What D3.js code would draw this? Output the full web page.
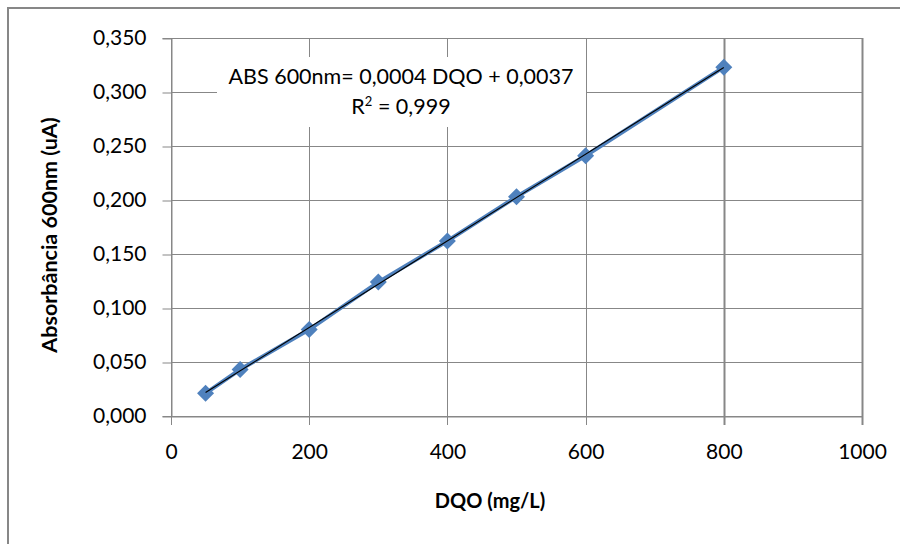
<!DOCTYPE html>
<html>
<head>
<meta charset="utf-8">
<script src="https://cdn.jsdelivr.net/npm/d3@7"></script>
<style>
  body { margin: 0; background: #fff; }
  svg text { font-family: Lato, "Open Sans", sans-serif; fill: #000; }
</style>
</head>
<body>
<svg id="chart" width="900" height="544"></svg>
<script>
// data
const dqo = [50, 100, 200, 300, 400, 500, 600, 800];
const abs = [0.021, 0.043, 0.080, 0.124, 0.162, 0.203, 0.241, 0.323];
const xTicks = [0, 200, 400, 600, 800, 1000];
const yTicks = [0, 0.05, 0.1, 0.15, 0.2, 0.25, 0.3, 0.35];
const eqText = "ABS 600nm= 0,0004 DQO + 0,0037";

// plot area
const margin = { top: 38, right: 38, bottom: 128, left: 171 };
const width = 900 - margin.left - margin.right;
const height = 544 - margin.top - margin.bottom;
const grid = "#878787";

const svg = d3.select("#chart");

// outer chart border (right/bottom fall outside the picture)
svg.append("rect")
  .attr("x", 8).attr("y", 8)
  .attr("width", 920).attr("height", 560)
  .attr("fill", "none")
  .attr("stroke", grid)
  .attr("stroke-width", 2);

const g = svg.append("g").attr("transform", `translate(${margin.left},${margin.top})`);

const x = d3.scaleLinear().domain([0, 1000]).range([0, width]);
const y = d3.scaleLinear().domain([0, 0.35]).range([height, 0]);
const fmt = d => d3.format(".3f")(d).replace(".", ",");

// gridlines
g.selectAll(".hgrid").data(yTicks).join("line")
  .attr("x1", 0).attr("x2", width)
  .attr("y1", d => Math.round(y(d)) + 0.5).attr("y2", d => Math.round(y(d)) + 0.5)
  .attr("stroke", grid);
g.selectAll(".vgrid").data(xTicks).join("line")
  .attr("x1", d => Math.round(x(d)) + 0.5).attr("x2", d => Math.round(x(d)) + 0.5)
  .attr("y1", 0).attr("y2", height + 9)
  .attr("stroke", grid)
  .attr("stroke-width", d => (d === 1000 || d === 800) ? 2 : 1);

// axes
const yAxis = g.append("g")
  .attr("transform", "translate(0.5,0)")
  .call(d3.axisLeft(y).tickValues(yTicks).tickFormat(fmt).tickSize(9).tickPadding(16));
yAxis.select(".domain").attr("stroke", grid);
yAxis.selectAll(".tick line").attr("stroke", grid).attr("transform", "translate(0,0.5)");
yAxis.selectAll("text").style("font-size", "21px");

const xAxis = g.append("g")
  .attr("transform", `translate(0,${height + 0.5})`)
  .call(d3.axisBottom(x).tickValues(xTicks).tickFormat(d3.format("d")).tickSize(0).tickPadding(28));
xAxis.select(".domain").attr("stroke", grid);
xAxis.selectAll("text").style("font-size", "21px");

// label box for the trendline equation
g.append("rect")
  .attr("x", 217 - margin.left).attr("y", 57 - margin.top)
  .attr("width", 369).attr("height", 70)
  .attr("fill", "#fff");

// series line and markers
const pts = dqo.map((d, i) => ({ x: d, y: abs[i] }));
g.append("path")
  .datum(pts)
  .attr("fill", "none")
  .attr("stroke", "#4f81bd")
  .attr("stroke-width", 4)
  .attr("d", d3.line().x(d => x(d.x)).y(d => y(d.y)));

g.selectAll(".pt").data(pts).join("path")
  .attr("transform", d => `translate(${x(d.x)},${y(d.y)})`)
  .attr("d", "M0,-8.5L8.5,0L0,8.5L-8.5,0Z")
  .attr("fill", "#4f81bd");

// linear trendline (least squares)
const mx = d3.mean(dqo), my = d3.mean(abs);
const slope = d3.sum(dqo, (d, i) => (d - mx) * (abs[i] - my)) / d3.sum(dqo, d => (d - mx) ** 2);
const icpt = my - slope * mx;
const ext = d3.extent(dqo);
g.append("line")
  .attr("x1", x(ext[0])).attr("y1", y(icpt + slope * ext[0]))
  .attr("x2", x(ext[1])).attr("y2", y(icpt + slope * ext[1]))
  .attr("stroke", "#000")
  .attr("stroke-width", 1.2);

// equation text
svg.append("text")
  .attr("x", 401).attr("y", 84)
  .attr("text-anchor", "middle")
  .style("font-size", "21.5px")
  .text(eqText);
const r2 = svg.append("text")
  .attr("x", 401).attr("y", 114)
  .attr("text-anchor", "middle")
  .style("font-size", "21.5px");
r2.append("tspan").text("R");
r2.append("tspan").attr("dy", -8).style("font-size", "13px").text("2");
r2.append("tspan").attr("dy", 8).text(" = 0,999");

// axis titles
svg.append("text")
  .attr("transform", "translate(57,235) rotate(-90)")
  .attr("text-anchor", "middle")
  .style("font-size", "21.5px")
  .style("font-weight", "bold")
  .text("Absorbância 600nm (uA)");
svg.append("text")
  .attr("x", 490).attr("y", 508)
  .attr("text-anchor", "middle")
  .style("font-size", "20px")
  .style("font-weight", "bold")
  .text("DQO (mg/L)");
</script>
</body>
</html>
